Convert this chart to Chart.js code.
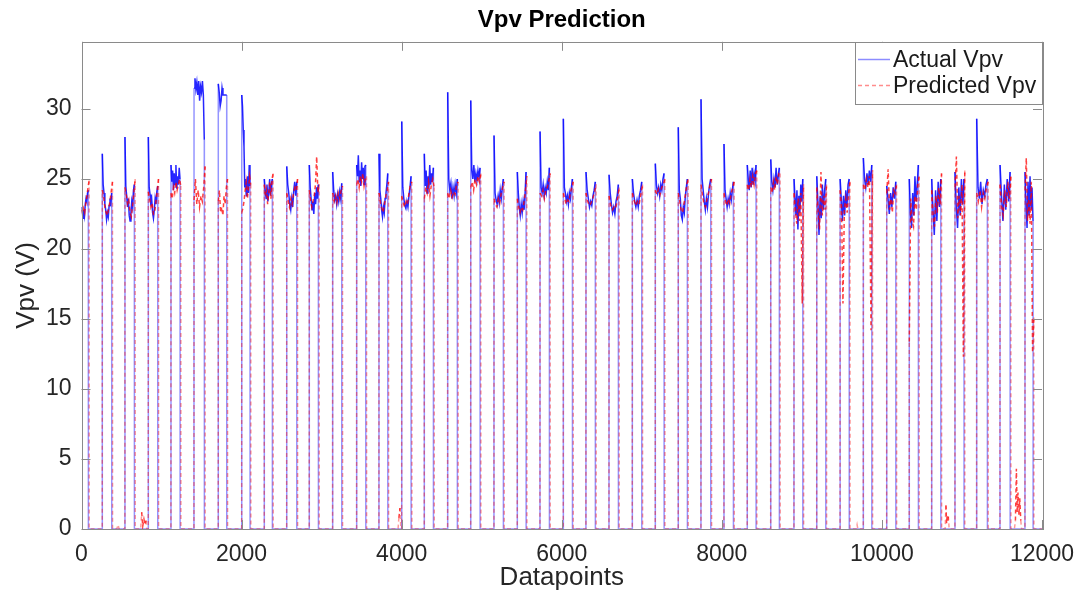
<!DOCTYPE html>
<html>
<head>
<meta charset="utf-8">
<title>Vpv Prediction</title>
<script src="https://cdn.jsdelivr.net/npm/chart.js@4.4.1/dist/chart.umd.min.js"></script>
<style>
  html, body { margin: 0; padding: 0; background: #fff; }
  canvas { display: block; }
</style>
</head>
<body>
<canvas id="vpvChart" width="1089" height="594"></canvas>
<script>
// Index (datapoint) where each day's PV voltage rises from 0 and where it falls back
const dayStart = [0, 260, 543, 835, 1118, 1406, 1709, 2002, 2284, 2564, 2846, 3138, 3438, 3717,
  4001, 4283, 4575, 4863, 5154, 5445, 5729, 6020, 6303, 6591, 6882, 7169, 7456, 7740,
  8027, 8318, 8611, 8902, 9186, 9478, 9768, 10060, 10342, 10622, 10913, 11184, 11476, 11788];
const dayEnd = [85, 377, 660, 952, 1231, 1534, 1814, 2105, 2384, 2689, 2959, 3251, 3551, 3826,
  4117, 4396, 4695, 4979, 5270, 5554, 5845, 6133, 6419, 6707, 6999, 7278, 7569, 7861,
  8144, 8427, 8718, 9011, 9298, 9591, 9873, 10173, 10455, 10735, 11025, 11317, 11601, 11888];

// Actual Vpv readings during each day (V)
const actualDays = [
  [23.0, 22.6, 22.2, 22.8, 22.4, 23.2, 23.6, 23.4, 24.0, 24.2],
  [26.8, 24.6, 24.0, 23.2, 22.8, 22.1, 22.6, 22.3, 23.1, 23.6, 23.3, 24.0],
  [28.0, 24.5, 23.8, 23.0, 23.6, 22.4, 22.0, 22.6, 23.4, 23.0, 24.2, 24.6],
  [28.0, 24.4, 23.9, 23.1, 23.5, 22.6, 22.2, 22.8, 23.6, 23.2, 24.1, 24.5],
  [26.0, 24.8, 25.6, 24.2, 25.4, 24.6, 26.0, 24.3, 25.2, 24.6, 25.8, 25.0],
  [31.5, 32.2, 31.4, 31.9, 31.0, 32.0, 30.6, 31.6, 31.2, 32.0, 31.0, 27.8],
  [31.8, 31.2, 30.2, 30.6, 31.5, 31.0, 31.0, 31.0, 31.0, 31.0],
  [31.0, 30.2, 28.5, 27.3, 24.4, 25.0, 23.8, 24.6, 25.2, 24.0, 26.0, 24.5],
  [25.0, 24.2, 23.6, 24.6, 23.4, 24.0, 25.0, 23.8, 24.6, 25.0],
  [25.9, 24.6, 24.0, 23.2, 22.8, 23.6, 23.0, 24.2, 24.8, 23.8, 24.8],
  [26.0, 24.4, 23.6, 22.8, 23.4, 22.5, 24.0, 23.2, 24.4, 23.6, 24.6],
  [25.5, 24.2, 23.5, 23.8, 23.2, 23.9, 23.4, 24.1, 23.6, 24.7],
  [26.0, 25.2, 26.7, 24.8, 25.6, 24.5, 26.2, 25.0, 25.8, 24.6, 25.9, 26.0],
  [26.8, 24.2, 23.6, 22.8, 22.3, 23.0, 22.6, 23.6, 24.0, 24.6, 25.4],
  [29.1, 24.4, 23.6, 23.1, 22.9, 23.4, 23.0, 23.8, 24.4, 25.2],
  [26.8, 24.5, 25.6, 24.0, 25.2, 24.3, 26.0, 24.6, 25.4, 24.8, 25.8],
  [31.2, 25.0, 24.2, 24.7, 23.6, 24.4, 23.8, 24.6, 24.0, 25.0],
  [30.6, 25.6, 25.0, 26.0, 24.8, 25.4, 24.9, 25.6, 25.1, 25.8],
  [28.1, 24.0, 23.5, 23.2, 23.8, 23.3, 24.2, 23.6, 24.4, 25.0],
  [25.5, 24.0, 23.0, 22.4, 23.2, 22.6, 23.4, 22.8, 24.0, 25.5],
  [28.4, 24.4, 24.0, 24.6, 23.8, 24.4, 24.0, 24.8, 24.2, 25.8],
  [29.3, 24.4, 24.0, 23.4, 23.8, 23.2, 24.0, 23.6, 24.4, 25.0],
  [25.5, 24.2, 23.6, 23.0, 23.4, 23.1, 23.8, 24.2, 24.8],
  [25.3, 24.0, 23.2, 22.6, 23.0, 22.5, 23.4, 23.8, 24.6],
  [25.0, 24.0, 23.4, 23.0, 23.5, 23.0, 23.8, 24.2, 24.8],
  [26.1, 24.6, 24.0, 24.4, 23.8, 24.6, 24.2, 25.0, 25.4],
  [28.7, 24.2, 23.6, 22.4, 22.1, 23.0, 22.6, 23.8, 24.4, 25.0],
  [30.7, 25.0, 24.2, 23.4, 22.8, 23.6, 23.0, 24.0, 24.6, 25.0],
  [27.5, 24.2, 23.6, 23.0, 23.6, 23.2, 24.0, 23.5, 24.2, 24.8],
  [26.0, 25.0, 24.2, 25.6, 24.4, 25.8, 24.6, 25.4, 24.9, 26.0],
  [26.4, 24.8, 24.2, 25.0, 24.4, 25.8, 24.6, 25.2, 25.8],
  [25.0, 23.6, 22.4, 24.2, 21.4, 23.8, 22.6, 24.6, 23.4, 25.0],
  [25.2, 23.4, 21.0, 23.8, 22.2, 24.6, 22.8, 24.2, 25.0],
  [25.0, 23.6, 22.0, 23.8, 22.4, 24.2, 23.0, 24.6, 25.0],
  [26.5, 25.0, 24.4, 25.4, 24.6, 25.6, 24.8, 26.0],
  [24.5, 23.6, 22.5, 24.0, 23.0, 24.4, 23.6, 24.8],
  [25.0, 22.6, 21.5, 24.0, 22.4, 25.2, 23.4, 24.6, 26.0],
  [25.0, 22.8, 21.0, 24.2, 22.0, 24.8, 23.0, 25.0],
  [25.5, 23.0, 21.5, 24.4, 22.4, 25.0, 23.2, 25.0],
  [29.3, 24.4, 23.6, 24.8, 23.2, 24.2, 23.8, 24.6, 25.0],
  [26.0, 23.8, 22.0, 24.6, 22.8, 25.0, 23.4, 25.5],
  [25.5, 23.2, 21.5, 24.8, 22.4, 25.2, 22.8, 24.4, 22.0]
];

// Predicted Vpv during each day (V)
const predDays = [
  [22.8, 22.5, 22.9, 22.6, 23.3, 23.8, 24.4, 24.9],
  [24.2, 23.8, 23.0, 22.6, 22.4, 22.9, 23.4, 24.1, 24.8],
  [24.4, 23.9, 23.2, 23.5, 22.6, 22.3, 23.1, 24.0, 25.0],
  [24.1, 23.6, 23.0, 23.3, 22.5, 22.6, 23.4, 24.2, 25.0],
  [24.0, 23.6, 24.4, 24.0, 24.8, 24.2, 24.6, 25.0, 24.5],
  [23.5, 25.0, 23.2, 24.2, 23.0, 23.8, 23.4, 24.4, 25.9],
  [23.4, 24.2, 22.6, 23.0, 22.4, 23.8, 23.2, 24.4, 25.0],
  [22.6, 22.9, 23.4, 24.2, 24.8, 23.6, 24.4, 25.2, 24.6],
  [24.6, 23.8, 24.2, 23.2, 24.0, 24.8, 23.6, 25.0, 25.4],
  [24.0, 23.5, 23.0, 23.6, 23.2, 24.0, 24.4, 24.2, 25.0],
  [24.2, 23.5, 23.0, 23.4, 23.8, 24.6, 26.6, 24.0, 24.6],
  [24.0, 23.4, 23.8, 23.3, 24.0, 23.6, 24.2, 24.5],
  [24.6, 25.0, 24.4, 25.2, 24.8, 25.4, 24.5, 25.0, 25.2],
  [24.0, 23.3, 22.9, 22.6, 23.2, 23.8, 24.2, 24.8],
  [23.8, 23.3, 23.0, 23.4, 23.2, 24.0, 24.6, 24.8],
  [23.6, 24.4, 24.0, 24.8, 23.8, 24.6, 25.0, 24.4],
  [24.0, 23.6, 24.2, 23.7, 24.1, 23.9, 24.6, 24.8],
  [24.4, 24.8, 24.2, 25.0, 24.6, 25.2, 24.8, 25.4],
  [23.6, 23.2, 23.0, 23.6, 23.3, 24.0, 24.4, 24.8],
  [23.6, 23.0, 22.6, 23.0, 22.8, 23.4, 24.2, 25.2],
  [24.0, 23.8, 24.2, 23.6, 24.2, 24.4, 24.8, 25.4],
  [24.0, 23.6, 23.2, 23.5, 23.4, 24.0, 24.4, 24.8],
  [24.0, 23.4, 23.1, 23.3, 23.6, 24.0, 24.6],
  [23.8, 23.1, 22.8, 23.0, 22.9, 23.6, 24.4],
  [24.0, 23.5, 23.1, 23.4, 23.2, 23.9, 24.6],
  [24.2, 23.9, 24.3, 23.9, 24.4, 24.6, 25.0],
  [24.0, 23.4, 22.8, 22.6, 23.2, 23.8, 24.6, 25.0],
  [24.6, 23.8, 23.2, 23.0, 23.6, 24.0, 24.6, 25.0],
  [24.0, 23.4, 23.1, 23.6, 23.3, 24.0, 24.4, 24.8],
  [24.6, 24.2, 25.0, 24.4, 25.2, 24.6, 25.4, 25.6],
  [24.4, 24.0, 24.8, 24.2, 25.2, 24.6, 25.4, 25.4],
  [24.0, 22.8, 21.8, 23.6, 22.0, 24.0, 16.1, 24.6],
  [24.4, 22.6, 21.4, 25.5, 22.4, 23.8, 22.8, 24.6],
  [24.2, 23.0, 16.1, 22.8, 23.6, 22.6, 24.0, 24.8],
  [24.6, 24.2, 25.0, 24.4, 25.2, 14.2, 25.6],
  [24.0, 25.7, 22.8, 23.6, 22.6, 24.2, 24.0, 24.6],
  [13.4, 23.6, 22.0, 21.6, 23.8, 22.8, 24.6, 25.2],
  [24.2, 22.4, 21.6, 23.8, 22.6, 24.4, 23.2, 25.4],
  [24.4, 26.6, 22.2, 23.8, 22.4, 24.6, 12.3, 25.6],
  [24.0, 23.4, 24.2, 23.0, 24.0, 23.6, 24.4, 24.8],
  [24.6, 23.0, 22.4, 24.2, 23.0, 24.8, 23.6, 25.2],
  [24.2, 26.5, 22.0, 23.6, 21.8, 24.8, 12.6, 15.1]
];

// Small non-zero predictions during the night
const predNightX = [440, 457, 470, 740, 752, 765, 780, 793, 806, 815,
  3955, 3965, 3979, 3990, 9680, 9690, 9700,
  10790, 10800, 10808, 10815, 10822, 10830, 10840,
  11655, 11668, 11680, 11690, 11700, 11712, 11722, 11735, 11745];
const predNightY = [0, 0.3, 0, 0, 1.2, 0.2, 0.7, 0.3, 0.6, 0,
  0, 0.8, 1.5, 0, 0, 0.3, 0,
  0, 1.7, 0.4, 1.0, 0.5, 0.9, 0,
  0, 0.6, 4.3, 1.2, 2.6, 1.0, 2.2, 0.6, 0];

const xTicks = [0, 2000, 4000, 6000, 8000, 10000, 12000];
const yTicks = [0, 5, 10, 15, 20, 25, 30];

function buildSeries(days, lag) {
  const pts = [];
  for (let d = 0; d < dayStart.length; d++) {
    const s = dayStart[d], e = dayEnd[d] + lag, v = days[d];
    if (s > 0) pts.push({ x: s - 1, y: 0 });
    v.forEach((y, i) => pts.push({ x: s + (e - s) * i / (v.length - 1), y: y }));
    pts.push({ x: e + 1, y: 0 });
  }
  pts.push({ x: 11999, y: 0 });
  return pts;
}

const actualPts = buildSeries(actualDays, 0);
const predPts = buildSeries(predDays, 10);
predNightX.forEach((x, i) => predPts.push({ x: x, y: predNightY[i] }));
predPts.sort((a, b) => a.x - b.x);

const FONT = "'Liberation Sans', Arial, Helvetica, sans-serif";

// vertical edges are thin/light, the busy daytime part is darker
function segColor(c1, c2) {
  return ctx => (ctx.p0.parsed.y > 0 && ctx.p1.parsed.y > 0) ? c2 : c1;
}

// MATLAB style box, inward ticks and legend
const matlabAxes = {
  id: 'matlabAxes',
  afterDatasetsDraw(chart) {
    const { ctx, chartArea: a, scales } = chart;
    const x = scales.x, y = scales.y;
    ctx.save();
    ctx.strokeStyle = '#8a8a8a';
    ctx.lineWidth = 1;
    ctx.beginPath();
    xTicks.forEach(t => {
      const px = Math.round(x.getPixelForValue(t)) + 0.5;
      ctx.moveTo(px, a.bottom); ctx.lineTo(px, a.bottom - 9);
      ctx.moveTo(px, a.top); ctx.lineTo(px, a.top + 9);
    });
    yTicks.forEach(t => {
      const py = Math.round(y.getPixelForValue(t)) + 0.5;
      ctx.moveTo(a.left, py); ctx.lineTo(a.left + 9, py);
      ctx.moveTo(a.right, py); ctx.lineTo(a.right - 9, py);
    });
    ctx.stroke();
    ctx.strokeRect(Math.round(a.left) + 0.5, Math.round(a.top) + 0.5,
      Math.round(a.right - a.left), Math.round(a.bottom - a.top));

    // legend
    const lx = 855, ly = Math.round(a.top) + 0.5, lw = Math.round(a.right) - 855, lh = 62;
    ctx.fillStyle = '#fff';
    ctx.fillRect(lx, ly, lw, lh);
    ctx.strokeStyle = '#8a8a8a';
    ctx.strokeRect(lx + 0.5, ly, lw, lh);
    const ds = chart.data.datasets;
    const rows = [ly + 17, ly + 43];
    ctx.font = '23px ' + FONT;
    ctx.textBaseline = 'middle';
    ctx.fillStyle = '#1a1a1a';
    [0, 1].forEach(i => {
      ctx.beginPath();
      ctx.strokeStyle = i === 0 ? 'rgba(0,0,255,0.45)' : 'rgba(255,0,0,0.45)';
      ctx.setLineDash(i === 0 ? [] : [4, 3]);
      ctx.lineWidth = 1.5;
      ctx.moveTo(858, rows[i]); ctx.lineTo(890, rows[i]);
      ctx.stroke();
      ctx.fillText(ds[i].label, 893, rows[i] + 1);
    });
    ctx.restore();
  }
};

const config = {
  type: 'line',
  data: {
    datasets: [{
      label: 'Actual Vpv',
      data: actualPts,
      borderColor: 'rgba(0,0,255,0.45)',
      borderWidth: 1.5,
      pointRadius: 0,
      tension: 0,
      order: 1,
      segment: { borderColor: segColor('rgba(0,0,255,0.42)', 'rgba(0,0,255,0.85)') }
    }, {
      label: 'Predicted Vpv',
      data: predPts,
      borderColor: 'rgba(255,0,0,0.4)',
      borderWidth: 1.5,
      borderDash: [4, 3],
      pointRadius: 0,
      tension: 0,
      order: 0,
      segment: { borderColor: segColor('rgba(255,0,0,0.4)', 'rgba(255,0,0,0.75)') }
    }]
  },
  options: {
    responsive: false,
    animation: false,
    layout: { padding: { left: 0, right: 47, top: 0, bottom: 0 } },
    scales: {
      x: {
        type: 'linear',
        min: 0,
        max: 12000,
        afterBuildTicks: s => { s.ticks = xTicks.map(v => ({ value: v })); },
        ticks: { font: { family: FONT, size: 23 }, color: '#262626', padding: 12, maxRotation: 0,
          callback: v => String(v) },
        grid: { display: false, drawTicks: false },
        border: { display: false },
        title: { display: true, text: 'Datapoints', font: { family: FONT, size: 26 }, color: '#262626', padding: { top: 0, bottom: 1 } },
        afterFit: s => { s.height = 65; }
      },
      y: {
        type: 'linear',
        min: 0,
        max: 34.8,
        afterBuildTicks: s => { s.ticks = yTicks.map(v => ({ value: v })); },
        ticks: { font: { family: FONT, size: 23 }, color: '#262626', padding: 10,
          callback: v => String(v) },
        grid: { display: false, drawTicks: false },
        border: { display: false },
        title: { display: true, text: 'Vpv (V)', font: { family: FONT, size: 26 }, color: '#262626', padding: { top: 11, bottom: 0 } },
        afterFit: s => { s.width = 81.5; }
      }
    },
    plugins: {
      legend: { display: false },
      tooltip: { enabled: false },
      title: {
        display: true,
        fullSize: false,
        text: 'Vpv Prediction',
        color: '#000',
        font: { family: FONT, size: 24, weight: 'bold' },
        padding: { top: 6, bottom: 7 }
      }
    }
  },
  plugins: [matlabAxes]
};

const ctx = document.getElementById('vpvChart').getContext('2d');
const vpvChart = new Chart(ctx, config);
</script>
</body>
</html>
